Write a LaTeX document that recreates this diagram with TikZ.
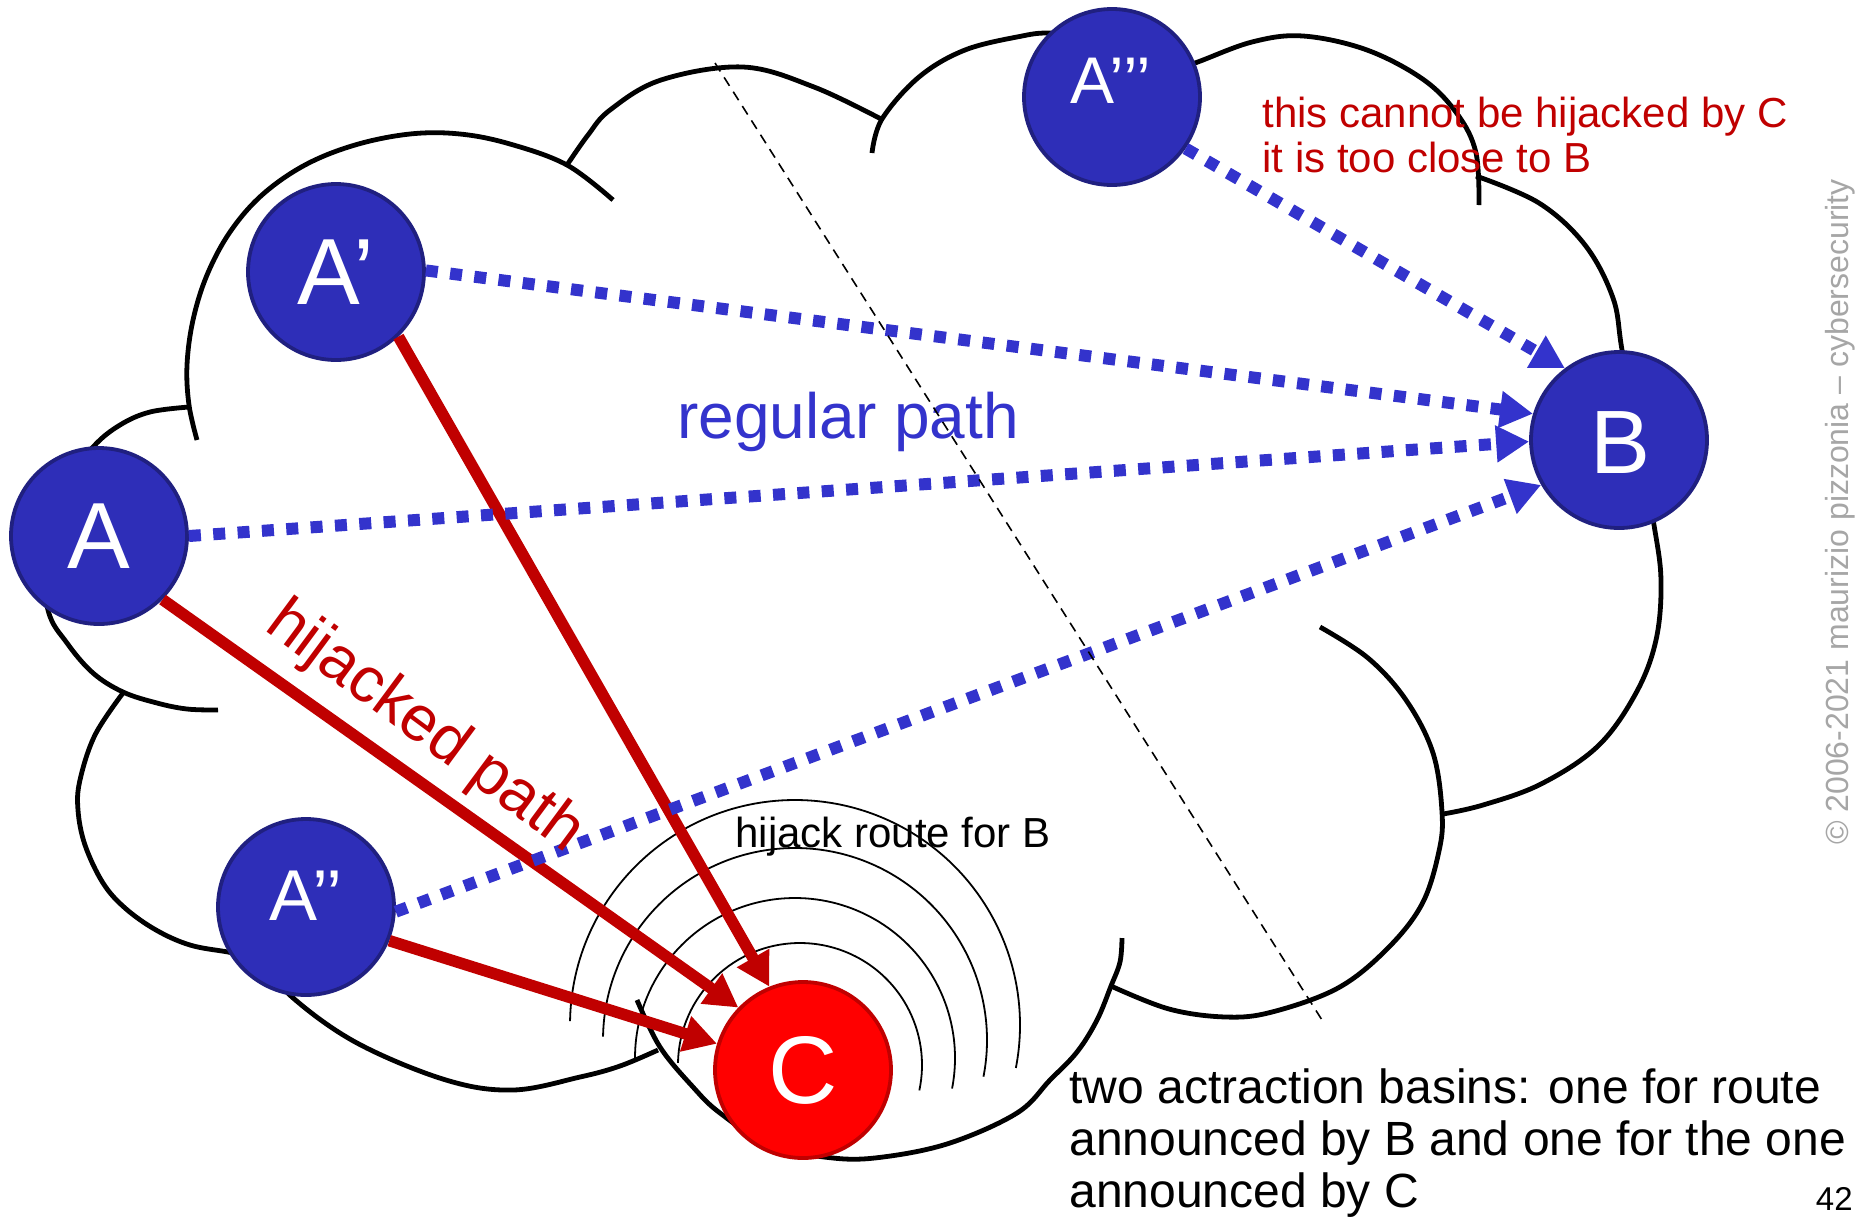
\documentclass[tikz,border=0pt]{standalone}
\usepackage{fontspec}
\setmainfont{Liberation Sans}
\usetikzlibrary{arrows.meta}
\definecolor{nodeblue}{RGB}{46,46,184}
\definecolor{nodeborder}{RGB}{32,32,128}
\definecolor{arrowblue}{RGB}{51,51,204}
\definecolor{darkred}{RGB}{192,0,0}
\definecolor{cred}{RGB}{255,0,0}
\definecolor{copygray}{RGB}{166,166,166}
\tikzset{
  cloudline/.style={line width=2.4pt, line join=round},
  asnode/.style={circle, fill=nodeblue, draw=nodeborder, line width=1.9pt, minimum size=88pt, inner sep=0pt, text=white},
  hijnode/.style={circle, fill=cred, draw=darkred, line width=1.9pt, minimum size=88pt, inner sep=0pt, text=white},
  nodelbl/.style={text=white, inner sep=0pt},
  regarrow/.style={draw=arrowblue, line width=6pt, dash pattern=on 6pt off 6.2pt, -{Triangle[length=16.5pt,width=17.5pt]}},
  hijarrow/.style={draw=darkred, line width=5.75pt, -{Triangle[length=16.5pt,width=17.5pt]}},
  basin/.style={line width=0.9pt},
  divider/.style={line width=0.8pt, dash pattern=on 5pt off 3.5pt},
  txt/.style={inner sep=0pt, anchor=base west},
}
\begin{document}
\begin{tikzpicture}[x=0.5pt,y=-0.5pt]
\useasboundingbox (0,0) rectangle (1862,1217);

% cloud outline
\draw[cloudline] plot[smooth, tension=0.6] coordinates {(197,440) (189,405) (187,365) (193,320) (207,275) (230,232) (262,195) (305,165) (355,145) (410,134) (460,134) (510,144) (567,165) (613,200)};
\draw[cloudline] plot[smooth, tension=0.6] coordinates {(567,165) (588,135) (610,110) (661,80) (743,67) (814,87) (883,120)};
\draw[cloudline] plot[smooth, tension=0.6] coordinates {(872,153) (882,119) (919,77) (965,50) (1022,36) (1049,33) (1080,36)};
\draw[cloudline] plot[smooth, tension=0.6] coordinates {(1150,78) (1195,63) (1252,42) (1303,36) (1367,50) (1424,80) (1458,115) (1476,153) (1479,205)};
\draw[cloudline] plot[smooth, tension=0.6] coordinates {(1476,176) (1539,203) (1585,245) (1613,298) (1622,350) (1638,440) (1654,525) (1661,581) (1656,640) (1636,693) (1598,746) (1541,784) (1483,805) (1443,814)};
\draw[cloudline] plot[smooth, tension=0.6] coordinates {(1320,627) (1368,658) (1406,700) (1433,753) (1442,812) (1439,851) (1422,904) (1387,949) (1338,988) (1272,1012) (1226,1017) (1169,1009) (1111,986)};
\draw[cloudline] plot[smooth, tension=0.6] coordinates {(1122,938) (1120,962) (1111,986) (1097,1020) (1077,1052) (1050,1080) (1017,1113) (950,1143) (883,1157) (833,1158) (770,1145) (720,1113) (693,1087) (660,1047) (637,1000)};
\draw[cloudline] plot[smooth, tension=0.6] coordinates {(262,960) (292,997) (357,1043) (446,1080) (513,1090) (580,1077) (620,1066) (658,1050)};
\draw[cloudline] plot[smooth, tension=0.6] coordinates {(123,693) (95,735) (80,780) (78,810) (85,845) (103,883) (125,908) (156,930) (190,945) (228,952) (262,958)};
\draw[cloudline] plot[smooth, tension=0.6] coordinates {(189,407) (150,412) (120,425) (93,447) (60,490) (42,545) (48,610) (67,643) (93,673) (123,692) (157,703) (187,709) (218,710)};

% attraction basin arcs around C
\draw[basin] (795,1025) ++(181:225) arc[start angle=181, end angle=371, radius=225];
\draw[basin] (795,1040) ++(181:192) arc[start angle=181, end angle=371, radius=192];
\draw[basin] (795,1058) ++(180:160) arc[start angle=180, end angle=371, radius=160];
\draw[basin] (800,1065) ++(181:122) arc[start angle=181, end angle=372, radius=122];

% nodes
\node[asnode, font=\fontsize{47}{50}\selectfont] (A) at (99,536) {A};
\node[asnode, font=\fontsize{47}{50}\selectfont] (A1) at (336,272) {A’};
\node[asnode] (A2) at (306,907) {};
\node[nodelbl, font=\fontsize{36}{40}\selectfont] (A2l) at (306,896) {A’’};
\node[asnode] (A3) at (1112,97) {};
\node[nodelbl, font=\fontsize{33}{36}\selectfont] (A3l) at (1111,81) {A’’’};
\node[asnode] (B) at (1619,440) {};
\node[nodelbl, font=\fontsize{45}{48}\selectfont] (Bl) at (1620,443) {B};
\node[hijnode, font=\fontsize{48}{50}\selectfont] (C) at (803,1070) {C};

% hijacked paths
\draw[hijarrow] (A.-45) -- (C.136);
\draw[hijarrow] (A1.-46) -- (C.112);
\draw[hijarrow] (A2.-22) -- (C.163);

% regular paths
\draw[regarrow] (A1.1) -- (B.163);
\draw[regarrow] (A.0) -- (B.181);
\draw[regarrow] (A2.-3) -- (B.210);
\draw[regarrow] (A3.-35) -- (B.127);

% texts
\node[txt, text=arrowblue, font=\fontsize{32}{38}\selectfont] (reg) at (677,438) {regular path};
\node[txt, text=darkred, font=\fontsize{32}{38}\selectfont, rotate=-36.5] (hij) at (263,629) {hijacked path};
\node[txt, font=\fontsize{21}{25}\selectfont] (route) at (735,847) {hijack route for B};
\node[txt, text=darkred, font=\fontsize{21}{25}\selectfont] (note1) at (1262,127) {this cannot be hijacked by C};
\node[txt, text=darkred, font=\fontsize{21}{25}\selectfont] (note2) at (1262,172) {it is too close to B};
\node[txt, font=\fontsize{24}{28}\selectfont] (bas1) at (1069,1103) {two actraction basins: one for route};
\node[txt, font=\fontsize{24}{28}\selectfont] (bas2) at (1069,1155) {announced by B and one for the one};
\node[txt, font=\fontsize{24}{28}\selectfont] (bas3) at (1069,1207) {announced by C};
\node[inner sep=0pt, anchor=base east, font=\fontsize{16.5}{20}\selectfont] (pg) at (1853,1210) {42};
\node[inner sep=0pt, text=copygray, rotate=90, font=\fontsize{16}{19}\selectfont] (copy) at (1840,512) {© 2006-2021 maurizio pizzonia – cybersecurity};

% divider
\coordinate (dtop) at (715,63);
\coordinate (dbot) at (1322,1020);
\draw[divider] (dtop) -- (dbot);
\end{tikzpicture}
\end{document}
